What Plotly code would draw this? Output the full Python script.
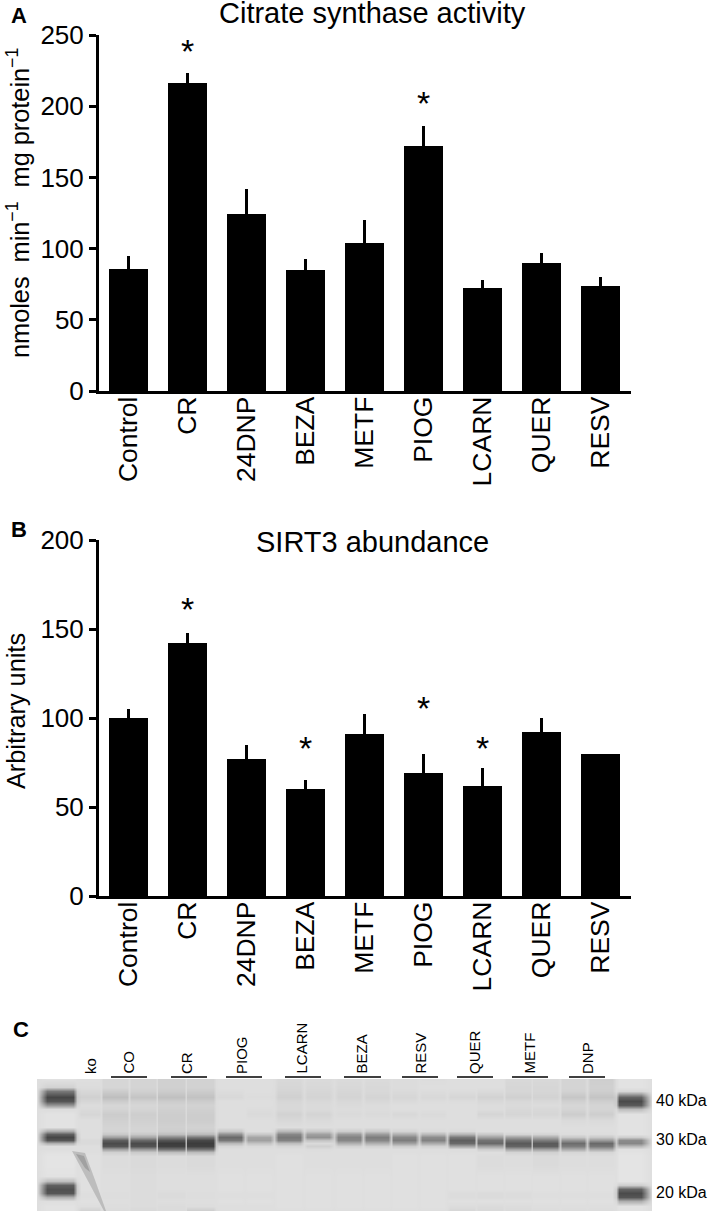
import plotly.graph_objects as go

W, H = 709, 1212
FONT = "Liberation Sans"

treatments = ["Control", "CR", "24DNP", "BEZA", "METF", "PIOG", "LCARN", "QUER", "RESV"]
citrate_mean = [86, 216, 124, 85, 104, 172, 72, 90, 74]
citrate_err = [9, 7, 18, 8, 16, 14, 6, 7, 6]
citrate_star_idx = [1, 5]
citrate_star_y = [236.5, 199.5]
sirt3_mean = [100, 142, 77, 60, 91, 69, 62, 92, 80]
sirt3_err = [5, 6, 8, 5, 11, 11, 10, 8, 0]
sirt3_star_idx = [1, 3, 5, 6]
sirt3_star_y = [159, 81, 103.5, 81]
y_ticks_a = [0, 50, 100, 150, 200, 250]
y_ticks_b = [0, 50, 100, 150, 200]

# blot, grey levels
gel_lane_x = [60, 90, 115, 143, 171, 200, 230, 259, 289, 318, 349, 377, 404, 433, 462, 490, 518, 545, 573, 601, 630]
gel_lane_halfwidth = [13, 9, 12, 12, 13, 13, 11, 11, 11, 11, 11, 11, 11, 11, 12, 12, 12, 12, 11, 11, 11]
gel_row_y = [1079, 1087, 1091, 1097, 1101, 1105, 1109, 1114, 1120, 1127, 1131, 1134, 1137, 1140, 1143, 1146, 1149, 1152,
             1156, 1165, 1176, 1181, 1185, 1189, 1193, 1197, 1201, 1206, 1211]
ladder_left = [225, 210, 120, 70, 85, 150, 220, 226, 226, 226, 170, 95, 70, 85, 175, 222, 222, 225,
               228, 228, 226, 190, 95, 80, 85, 175, 222, 226, 226]
ladder_right = [226, 226, 215, 100, 75, 90, 190, 226, 226, 226, 226, 226, 205, 140, 135, 185, 224, 226,
                228, 228, 228, 228, 205, 100, 75, 85, 175, 226, 226]
lower_a = [224, 220, 218, 220, 218, 222, 222, 224, 222, 222, 222, 224, 224, 224, 220, 221, 218, 221, 221]
lower_b = [224, 222, 220, 222, 222, 224, 224, 224, 224, 224, 224, 224, 224, 224, 224, 224, 224, 224, 224]
lower_c = [222, 221, 220, 219, 221, 222, 222, 224, 224, 224, 224, 224, 224, 220, 219, 220, 222, 222, 222]
lower_d = [208, 219, 216, 219, 204, 222, 222, 222, 222, 222, 222, 222, 222, 214, 216, 218, 220, 220, 220]
# columns: ko, CO, CO, CR, CR, PIOG, PIOG, LCARN, LCARN, BEZA, BEZA, RESV, RESV, QUER, QUER, METF, METF, DNP, DNP
gel_samples = [
    [222, 214, 212, 208, 210, 222, 222, 216, 218, 218, 218, 220, 220, 222, 222, 216, 216, 212, 206],
    [220, 214, 212, 208, 210, 222, 222, 214, 216, 216, 216, 220, 222, 222, 222, 214, 214, 212, 208],
    [215, 204, 208, 204, 204, 220, 222, 212, 214, 214, 216, 218, 220, 220, 218, 214, 214, 210, 206],
    [208, 190, 196, 192, 194, 216, 220, 208, 212, 212, 212, 214, 216, 214, 210, 208, 210, 198, 196],
    [214, 204, 208, 204, 204, 222, 222, 214, 216, 216, 216, 218, 220, 220, 216, 216, 216, 208, 206],
    [220, 214, 214, 210, 210, 222, 222, 216, 218, 218, 220, 222, 222, 222, 220, 218, 220, 214, 212],
    [218, 212, 212, 208, 208, 222, 220, 216, 218, 220, 220, 222, 222, 222, 220, 216, 216, 212, 212],
    [214, 204, 206, 205, 205, 222, 218, 210, 212, 218, 218, 216, 218, 222, 213, 213, 214, 205, 206],
    [222, 208, 208, 205, 205, 222, 222, 216, 218, 222, 222, 222, 222, 222, 222, 222, 222, 218, 218],
    [222, 212, 212, 208, 210, 222, 222, 222, 222, 222, 222, 222, 222, 222, 222, 222, 222, 222, 222],
    [222, 212, 212, 205, 205, 200, 222, 185, 200, 205, 200, 212, 218, 218, 222, 222, 222, 222, 222],
    [222, 200, 200, 190, 185, 145, 200, 135, 160, 155, 155, 175, 185, 180, 200, 212, 212, 220, 220],
    [222, 160, 165, 135, 120, 105, 165, 120, 145, 130, 125, 135, 140, 120, 160, 160, 170, 200, 200],
    [218, 95, 105, 85, 72, 120, 160, 130, 195, 135, 135, 125, 130, 95, 115, 115, 125, 150, 155],
    [218, 75, 75, 60, 60, 185, 195, 190, 218, 175, 175, 160, 170, 105, 105, 90, 90, 108, 105],
    [222, 85, 82, 65, 65, 215, 218, 215, 208, 210, 210, 205, 210, 165, 160, 100, 95, 125, 120],
    [222, 160, 150, 115, 115, 222, 222, 222, 220, 222, 222, 222, 222, 220, 205, 165, 160, 170, 170],
    [222, 208, 202, 190, 188, 222, 222, 222, 222, 222, 222, 222, 222, 222, 222, 212, 208, 214, 214],
    lower_a, lower_a, lower_b, lower_b, lower_b, lower_b, lower_c, lower_c, lower_b, lower_c, lower_d,
]
smear_outer_x = [72, 85, 95, 106, 104, 85, 72]
smear_outer_y = [1151, 1153, 1180, 1211, 1211, 1175, 1151]
smear_inner_x = [76, 84, 90, 85, 76]
smear_inner_y = [1154, 1156, 1172, 1168, 1154]

gel_labels = ["ko", "CO", "CR", "PIOG", "LCARN", "BEZA", "RESV", "QUER", "METF", "DNP"]
gel_label_x = [90, 128, 186, 241, 301, 361, 420, 474, 529, 587]
gel_bar_start = [None, 111, 171, 226, 285, 344, 402, 457, 512, 569]
gel_bar_end = [None, 147, 207, 262, 321, 381, 438, 493, 548, 605]
kda_labels = ["40 kDa", "30 kDa", "20 kDa"]
kda_y = [1100, 1139, 1192]

BG = 222
columns, zcols = [37], [[BG] * len(gel_row_y)]
lane_cols = [ladder_left] + [[r[i] for r in gel_samples] for i in range(19)] + [ladder_right]
for i, (cx, hw, col) in enumerate(zip(gel_lane_x, gel_lane_halfwidth, lane_cols)):
    columns += [cx - hw, cx + hw]
    zcols += [col, col]
    if i + 1 < len(gel_lane_x):
        nxt = lane_cols[i + 1]
        columns.append((cx + hw + gel_lane_x[i + 1] - gel_lane_halfwidth[i + 1]) / 2)
        zcols.append([0.25 * (a + b) / 2 + 0.75 * BG for a, b in zip(col, nxt)])
columns.append(652)
zcols.append([BG] * len(gel_row_y))
gel_z = [[c[r] for c in zcols] for r in range(len(gel_row_y))]

def px(x):
    return x / W

def py(y):
    return 1 - y / H

fig = go.Figure()
bar_positions = list(range(len(treatments)))

def panel(mean, err, star_idx, star_y, xa, ya):
    fig.add_trace(go.Bar(
        x=bar_positions, y=mean, width=39 / 59, marker=dict(color="black", line=dict(width=0)),
        error_y=dict(type="data", symmetric=False, array=err, arrayminus=[0] * len(err),
                     width=0, thickness=3, color="black"),
        xaxis=xa, yaxis=ya, showlegend=False))
    fig.add_trace(go.Scatter(
        x=star_idx, y=star_y, mode="text", text=["*"] * len(star_idx), textposition="middle center",
        textfont=dict(family=FONT, size=34, color="black"), xaxis=xa, yaxis=ya, showlegend=False,
        cliponaxis=False))

panel(citrate_mean, citrate_err, citrate_star_idx, citrate_star_y, "x", "y")
panel(sirt3_mean, sirt3_err, sirt3_star_idx, sirt3_star_y, "x2", "y2")

fig.add_trace(go.Heatmap(
    x=columns, y=gel_row_y, z=gel_z, zmin=0, zmax=255, zsmooth="best", showscale=False,
    colorscale=[[0, "rgb(0,0,0)"], [1, "rgb(255,255,255)"]], xaxis="x3", yaxis="y3", hoverinfo="skip"))
for sx, sy, alpha in [(smear_outer_x, smear_outer_y, 0.3), (smear_inner_x, smear_inner_y, 0.35)]:
    fig.add_trace(go.Scatter(
        x=sx, y=sy, mode="lines", fill="toself", fillcolor=f"rgba(110,110,110,{alpha})",
        line=dict(width=0), xaxis="x3", yaxis="y3", showlegend=False))

xaxis_style = dict(
    range=[-0.5, 8.517], showline=True, linecolor="black", linewidth=3, ticks="", ticklabelstandoff=-8,
    tickangle=-90, tickmode="array", tickvals=bar_positions,
    ticktext=treatments, tickfont=dict(family=FONT, size=26.5, color="black"), showgrid=False, zeroline=False,
    automargin=False)
yaxis_style = dict(
    showline=True, linecolor="black", linewidth=3, ticks="outside", ticklen=7, tickwidth=2.5,
    tickcolor="black", tickfont=dict(family=FONT, size=26, color="black"), showgrid=False, zeroline=False,
    automargin=False)

annotations = []

def note(text, x, y, size, bold=False, angle=0, xanchor="center", yanchor="middle", xref="paper"):
    annotations.append(dict(
        text=f"<b>{text}</b>" if bold else text, x=x if xref != "paper" else px(x), y=py(y),
        xref=xref, yref="paper", showarrow=False, textangle=angle, xanchor=xanchor, yanchor=yanchor,
        font=dict(family=FONT, size=size, color="black"), borderpad=0, borderwidth=0))

note("A", 19, 15, 22, bold=True)
note("B", 19, 529, 22, bold=True)
note("C", 21, 1029, 22, bold=True)
note("Citrate synthase activity", 372, 13, 29)
note("SIRT3 abundance", 372, 542, 29)
note("nmoles\u00a0\u00a0min<sup>−1</sup>\u00a0\u00a0mg protein<sup>−1</sup>", 18, 203, 25.3, angle=-90)
note("Arbitrary units", 16, 711, 25.3, angle=-90)
for label, x in zip(gel_labels, gel_label_x):
    note(label, x, 1074, 15, angle=-90, yanchor="bottom", xref="x3")
for label, y in zip(kda_labels, kda_y):
    note(label, 656, y, 16, xanchor="left")

shapes = [dict(type="line", xref="x3", yref="paper", x0=a, x1=b, y0=py(1077), y1=py(1077),
               line=dict(color="black", width=1.5))
          for a, b in zip(gel_bar_start, gel_bar_end) if a is not None]

fig.update_layout(
    width=W, height=H, autosize=False, margin=dict(l=0, r=0, t=0, b=0),
    paper_bgcolor="white", plot_bgcolor="white", bargap=0,
    annotations=annotations, shapes=shapes,
    xaxis=dict(domain=[px(99), px(631)], anchor="y", **xaxis_style),
    yaxis=dict(domain=[py(391), py(35)], anchor="x", range=[0, 250], tickvals=y_ticks_a, **yaxis_style),
    xaxis2=dict(domain=[px(99), px(631)], anchor="y2", **xaxis_style),
    yaxis2=dict(domain=[py(896), py(540)], anchor="x2", range=[0, 200], tickvals=y_ticks_b, **yaxis_style),
    xaxis3=dict(domain=[px(37), px(652)], anchor="y3", range=[37, 652], visible=False, automargin=False),
    yaxis3=dict(domain=[py(1211), py(1079)], anchor="x3", range=[1211, 1079], visible=False, automargin=False),
)
fig.write_html("out.html", config={"displayModeBar": False},
               post_script="document.documentElement.style.overflow='hidden';document.body.style.margin='0';")
